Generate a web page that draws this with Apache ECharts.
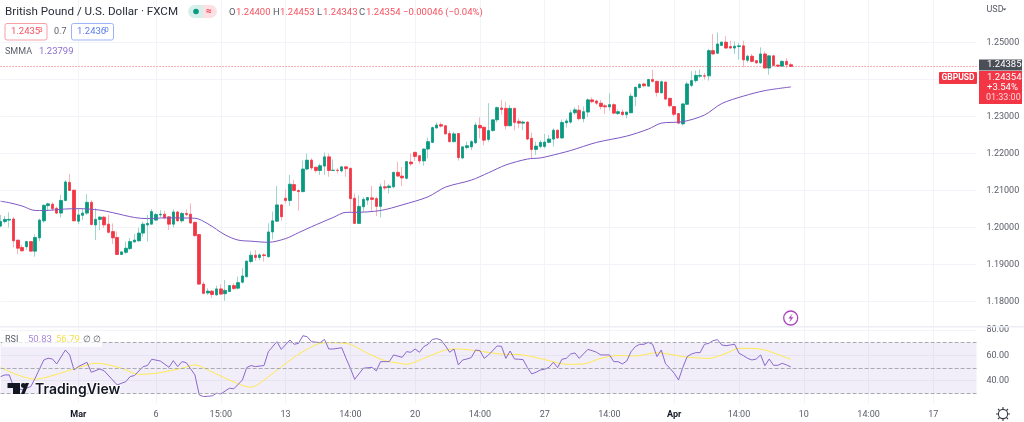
<!DOCTYPE html>
<html>
<head>
<meta charset="utf-8">
<title>GBPUSD</title>
<script src="https://cdn.jsdelivr.net/npm/echarts@6/dist/echarts.min.js"></script>
<style>
    html, body { margin: 0; padding: 0; background: #fff; overflow: hidden; }
    #chart { width: 1024px; height: 422px; }
</style>
</head>
<body>
<div id="chart"></div>
<script type="text/javascript">
// one entry per 4h candle
var opens = [
1.2004,1.2016,1.2020,1.2023,1.1966,1.1946,1.1948,1.1962,1.1936,1.1972,
1.2018,1.2059,1.2063,1.2052,1.2039,1.2073,1.2122,1.2101,1.2017,1.2033,
1.2039,1.2068,1.2007,1.2022,1.2028,1.2009,1.1989,1.1973,1.1927,1.1933,
1.1943,1.1961,1.1964,1.1985,1.2007,1.2009,1.2020,1.2034,1.2036,1.2029,
1.2009,1.2042,1.2018,1.2038,1.2036,1.2014,1.1981,1.1847,1.1823,1.1828,
1.1818,1.1834,1.1821,1.1827,1.1843,1.1836,1.1852,1.1867,1.1908,1.1925,
1.1919,1.1926,1.1921,1.1988,1.2017,1.2061,1.2079,1.2073,1.2116,1.2100,
1.2097,1.2158,1.2182,1.2163,1.2154,1.2166,1.2191,1.2154,1.2155,1.2153,
1.2164,1.2160,1.2079,1.2011,1.2056,1.2074,1.2080,1.2078,1.2057,1.2110,
1.2108,1.2110,1.2149,1.2139,1.2133,1.2177,1.2203,1.2194,1.2180,1.2212,
1.2230,1.2269,1.2278,1.2275,1.2254,1.2232,1.2254,1.2188,1.2216,1.2218,
1.2229,1.2276,1.2271,1.2238,1.2262,1.2291,1.2323,1.2322,1.2275,1.2322,
1.2287,1.2282,1.2285,1.2241,1.2211,1.2219,1.2219,1.2230,1.2239,1.2263,
1.2242,1.2283,1.2285,1.2310,1.2317,1.2294,1.2312,1.2345,1.2342,1.2336,
1.2329,1.2326,1.2332,1.2308,1.2312,1.2305,1.2310,1.2354,1.2378,1.2388,
1.2382,1.2400,1.2395,1.2364,1.2393,1.2349,1.2327,1.2308,1.2280,1.2333,
1.2384,1.2397,1.2409,1.2410,1.2410,1.2478,1.2471,1.2492,1.2501,1.2489,
1.2485,1.2489,1.2491,1.2452,1.2463,1.2451,1.2445,1.2469,1.2431,1.2464,
1.2439,1.2436,1.2449,1.2440];
var closes = [
1.2016,1.2022,1.2022,1.1964,1.1944,1.1937,1.1962,1.1936,1.1973,1.2020,
1.2060,1.2064,1.2051,1.2039,1.2073,1.2123,1.2100,1.2018,1.2034,1.2039,
1.2068,1.2008,1.2022,1.2028,1.2007,1.1987,1.1972,1.1927,1.1934,1.1944,
1.1962,1.1966,1.1985,1.2009,1.2011,1.2043,1.2035,1.2036,1.2026,1.2009,
1.2042,1.2018,1.2038,1.2035,1.2012,1.1978,1.1847,1.1822,1.1828,1.1819,
1.1834,1.1820,1.1830,1.1843,1.1835,1.1851,1.1869,1.1909,1.1925,1.1919,
1.1926,1.1924,1.1988,1.2018,1.2061,1.2029,1.2073,1.2117,1.2100,1.2097,
1.2158,1.2182,1.2161,1.2154,1.2167,1.2191,1.2154,1.2155,1.2154,1.2164,
1.2159,1.2078,1.2011,1.2057,1.2076,1.2081,1.2076,1.2057,1.2110,1.2107,
1.2112,1.2149,1.2139,1.2134,1.2178,1.2172,1.2192,1.2180,1.2212,1.2232,
1.2270,1.2277,1.2274,1.2253,1.2232,1.2253,1.2189,1.2218,1.2221,1.2232,
1.2277,1.2269,1.2236,1.2262,1.2291,1.2324,1.2319,1.2275,1.2322,1.2284,
1.2282,1.2285,1.2239,1.2211,1.2220,1.2230,1.2231,1.2239,1.2263,1.2242,
1.2284,1.2288,1.2310,1.2318,1.2294,1.2313,1.2345,1.2340,1.2336,1.2327,
1.2326,1.2332,1.2309,1.2313,1.2305,1.2312,1.2355,1.2379,1.2387,1.2383,
1.2400,1.2395,1.2365,1.2394,1.2347,1.2329,1.2306,1.2282,1.2334,1.2388,
1.2397,1.2411,1.2411,1.2409,1.2478,1.2469,1.2496,1.2501,1.2485,1.2485,
1.2490,1.2491,1.2453,1.2463,1.2449,1.2445,1.2469,1.2431,1.2464,1.2438,
1.2436,1.2449,1.2440,1.24354];
var highs = [
1.2034,1.2031,1.2041,1.2029,1.1966,1.1953,1.1964,1.1962,1.1982,1.2024,
1.2062,1.2067,1.2068,1.2056,1.2088,1.2128,1.2145,1.2101,1.2052,1.2052,
1.2090,1.2074,1.2052,1.2031,1.2031,1.2034,1.2011,1.1989,1.1936,1.1962,
1.1971,1.1982,1.2000,1.2016,1.2034,1.2050,1.2040,1.2047,1.2045,1.2031,
1.2049,1.2044,1.2042,1.2049,1.2065,1.2016,1.1982,1.1854,1.1836,1.1831,
1.1843,1.1847,1.1858,1.1845,1.1849,1.1867,1.1890,1.1911,1.1935,1.1939,
1.1930,1.1930,1.2011,1.2043,1.2112,1.2063,1.2103,1.2142,1.2128,1.2103,
1.2181,1.2200,1.2187,1.2164,1.2173,1.2203,1.2200,1.2184,1.2160,1.2166,
1.2165,1.2162,1.2092,1.2087,1.2082,1.2083,1.2112,1.2083,1.2119,1.2128,
1.2118,1.2151,1.2178,1.2163,1.2180,1.2200,1.2205,1.2196,1.2214,1.2243,
1.2273,1.2284,1.2284,1.2277,1.2262,1.2259,1.2255,1.2219,1.2232,1.2236,
1.2284,1.2298,1.2273,1.2336,1.2292,1.2327,1.2345,1.2340,1.2331,1.2324,
1.2295,1.2289,1.2287,1.2256,1.2232,1.2236,1.2253,1.2250,1.2268,1.2265,
1.2292,1.2295,1.2318,1.2325,1.2331,1.2327,1.2349,1.2352,1.2345,1.2345,
1.2334,1.2363,1.2336,1.2319,1.2319,1.2313,1.2363,1.2381,1.2390,1.2391,
1.2402,1.2426,1.2397,1.2397,1.2395,1.2351,1.2328,1.2309,1.2336,1.2394,
1.2422,1.2424,1.2427,1.2418,1.2483,1.2523,1.2527,1.2503,1.2517,1.2505,
1.2503,1.2499,1.2505,1.2467,1.2469,1.2451,1.2487,1.2476,1.2465,1.2467,
1.2440,1.2452,1.2458,1.24453];
var lows = [
1.2000,1.2011,1.2000,1.1946,1.1928,1.1935,1.1939,1.1935,1.1921,1.1963,
1.2013,1.2045,1.2045,1.2036,1.2027,1.2072,1.2099,1.2017,1.2009,1.2020,
1.2034,1.2006,1.1966,1.1993,1.1999,1.1984,1.1955,1.1926,1.1926,1.1928,
1.1939,1.1959,1.1962,1.1975,1.1962,1.2008,1.2018,1.2027,1.2022,1.1993,
1.2000,1.2016,1.2013,1.2031,1.2011,1.1975,1.1845,1.1820,1.1818,1.1810,
1.1815,1.1818,1.1802,1.1825,1.1831,1.1833,1.1849,1.1865,1.1903,1.1910,
1.1912,1.1908,1.1919,1.1968,1.2015,1.2018,1.2065,1.2058,1.2097,1.2045,
1.2095,1.2155,1.2155,1.2148,1.2142,1.2142,1.2137,1.2154,1.2146,1.2149,
1.2137,1.2042,1.2011,1.2011,1.2043,1.2061,1.2045,1.2031,1.2027,1.2101,
1.2092,1.2106,1.2137,1.2112,1.2130,1.2166,1.2180,1.2172,1.2167,1.2187,
1.2228,1.2267,1.2270,1.2251,1.2230,1.2230,1.2181,1.2185,1.2211,1.2209,
1.2226,1.2241,1.2222,1.2232,1.2259,1.2284,1.2304,1.2265,1.2273,1.2262,
1.2268,1.2263,1.2236,1.2187,1.2196,1.2214,1.2214,1.2228,1.2219,1.2240,
1.2240,1.2270,1.2280,1.2304,1.2289,1.2284,1.2298,1.2336,1.2331,1.2319,
1.2307,1.2316,1.2306,1.2304,1.2302,1.2295,1.2309,1.2328,1.2376,1.2379,
1.2381,1.2391,1.2354,1.2363,1.2345,1.2325,1.2300,1.2280,1.2276,1.2331,
1.2379,1.2391,1.2404,1.2400,1.2397,1.2467,1.2469,1.2491,1.2483,1.2483,
1.2469,1.2454,1.2433,1.2446,1.2446,1.2442,1.2442,1.2429,1.2413,1.2436,
1.2435,1.2435,1.2431,1.24343];

// SMMA: candle index, value
var smmaIdx = [0,2,5,8,10,15,18,23,26,31,34,38,45,48,52,55,58,62,66,69,72,77,80,82,88,93,99,103,109,113,117,122,125,127,132,138,145,150,153,158,163,167,172,177,183];
var smmaVal = [1.2071,1.2067,1.2058,1.2046,1.2046,1.2050,1.2051,1.2047,1.2040,1.2027,1.2024,1.2026,1.2025,1.2010,1.1980,1.1966,1.1963,1.1960,1.1970,1.1986,1.2002,1.2027,1.2041,1.2041,1.2046,1.2061,1.2083,1.2109,1.2128,1.2148,1.2169,1.2185,1.2188,1.2193,1.2208,1.2230,1.2247,1.2266,1.2282,1.2286,1.2304,1.2335,1.2355,1.2370,1.23799];

// RSI: candle index, value
var rsiIdx = [0,1,2,3,5,7,8,10,11,12,13,15,16,17,18,20,21,23,24,27,29,30,31,33,34,35,37,39,40,41,42,43,45,46,47,49,50,51,53,54,56,57,58,59,61,62,64,65,67,68,69,70,71,72,74,75,76,77,79,80,81,82,84,86,87,88,90,91,93,94,95,96,97,98,99,100,101,102,103,104,105,106,107,108,109,110,111,112,113,115,116,117,118,119,120,121,122,123,124,125,126,127,128,129,130,131,132,133,134,136,137,138,139,141,142,143,144,145,146,147,148,149,150,151,152,153,154,155,156,157,158,159,160,161,162,163,164,165,166,167,168,169,170,171,172,173,174,175,176,177,178,179,180,181,182,183];
var rsiVal = [43.2,44.5,44.5,35.3,32.7,35.3,41.9,56.3,57.7,57.1,53.2,64.2,60.3,48.4,51.1,54.5,46.6,49.2,47.7,36.6,39.2,43.2,44.0,51.1,51.9,56.9,55.5,50.5,55.8,51.1,55.0,54.2,44.5,28.7,27.4,27.9,30.0,29.5,34.0,33.5,40.5,50.3,51.9,51.1,51.9,62.9,70.8,64.7,72.1,68.7,69.5,75.5,74.7,70.8,70.0,72.6,65.0,65.0,66.0,57.6,49.8,41.0,49.8,50.5,47.7,55.0,55.0,60.3,58.4,62.9,62.4,65.0,62.4,66.9,68.7,72.6,73.2,72.1,67.6,62.4,65.0,52.4,56.3,57.1,58.2,64.2,63.7,57.6,60.3,67.4,67.1,57.6,63.4,57.1,56.9,56.6,50.3,45.3,46.6,48.4,49.0,50.5,54.5,50.3,56.9,57.6,61.0,61.9,57.6,64.7,63.7,62.4,60.3,60.3,55.0,55.0,53.2,55.5,62.9,66.9,68.7,68.7,70.3,68.7,59.0,64.2,53.2,49.8,45.8,40.5,50.5,59.0,61.0,62.1,62.1,68.7,69.5,71.6,72.4,68.2,67.6,68.2,68.7,61.6,59.8,57.6,56.3,57.1,60.3,51.8,57.1,52.1,52.1,53.7,52.4,50.83];

// RSI-based MA
var rsiMaIdx = [0,4,8,13,18,22,24,28,32,36,42,45,48,53,58,60,65,70,75,80,85,89,93,94,98,103,106,110,116,121,127,131,135,139,143,147,152,158,164,168,171,173,177,183];
var rsiMaVal = [50.3,44.5,41.1,45.0,50.3,53.7,53.2,49.8,45.0,45.8,49.8,52.4,48.4,40.5,34.8,37.9,51.0,62.9,70.0,69.5,61.6,55.8,53.4,52.9,57.6,64.2,65.0,63.7,61.0,60.3,55.8,52.9,53.2,57.6,59.8,59.5,62.1,59.0,57.6,61.6,65.5,65.5,64.2,56.79];

// time axis
var tickIdx = [18,36,51,66,81,96,111,126,141,156,171,186,201,216];
var tickLabels = ['Mar','6','15:00','13','14:00','20','14:00','27','14:00','Apr','14:00','10','14:00','17'];
var slotCount = 227;

var priceGrid = [1.18,1.19,1.20,1.21,1.22,1.23,1.24,1.25];
var priceLabels = [1.18,1.19,1.20,1.21,1.22,1.23,1.25];
var rsiGrid = [40,60,80];
var rsiLevels = [70,50,30];

var lastClose = 1.24354;

var RED = '#f23645', GREEN = '#089981', WICK_RED = '#fbb4ba', WICK_GREEN = '#9dd6ca';
var LEG_RED = '#f7525f';
var PURPLE = '#7e57c2', YELLOW = '#ffe94f', GRID = '#f2f4f9', TXT = '#5a5d68';
var FONT = 'Roboto, sans-serif';

var categories = [];
for (var i = 0; i < slotCount; i++) {
    var at = tickIdx.indexOf(i);
    categories.push(at >= 0 ? tickLabels[at] : '');
}

var wickData = opens.map(function (o, k) { return [o, closes[k], lows[k], highs[k]]; });
var bodyData = opens.map(function (o, k) { return [o, closes[k], Math.min(o, closes[k]), Math.max(o, closes[k])]; });

function pairs(xs, ys) {
    return xs.map(function (x, k) { return [x, ys[k]]; });
}
function isTick(idx) {
    return tickIdx.indexOf(idx) >= 0;
}

function txt(x, y, text, fill, size, weight, align) {
    return {
        type: 'text', z: 100,
        style: {
            x: x, y: y, text: text, fill: fill || TXT,
            font: (weight || 'normal') + ' ' + (size || 9.5) + 'px ' + FONT,
            align: align || 'left', verticalAlign: 'middle'
        }
    };
}
function box(x, y, w, h, fill, stroke, r) {
    return {
        type: 'rect', z: 90,
        shape: { x: x, y: y, width: w, height: h, r: r || 0 },
        style: { fill: fill, stroke: stroke || null, lineWidth: stroke ? 1 : 0 }
    };
}

var gearLines = [[1003,407,1003,409],[1003,419,1003,421],[996,414,998,414],[1008,414,1010,414],
    [998,409,999.5,410.5],[1008,409,1006.5,410.5],[998,419,999.5,417.5],[1008,419,1006.5,417.5]];

var overlay = [
    // pane separator
    { type: 'rect', z: 80, shape: { x: 0, y: 326, width: 1024, height: 1.5 }, style: { fill: '#eceef3' } },

    // header
    txt(5, 12, 'British Pound / U.S. Dollar · FXCM', '#2a2e39', 11.6),
    box(188, 5, 15, 13, '#d5f0ea', null, [6.5, 0, 0, 6.5]),
    box(203, 5, 14, 13, '#fde0e3', null, [0, 6.5, 6.5, 0]),
    { type: 'circle', z: 95, shape: { cx: 196, cy: 11.5, r: 2.8 }, style: { fill: GREEN } },
    txt(209, 11.5, '≈', RED, 10, 'bold', 'center'),
    txt(229, 12.5, 'O', TXT, 9.5), txt(236, 12.5, '1.24400', LEG_RED, 9.5),
    txt(273, 12.5, 'H', TXT, 9.5), txt(280, 12.5, '1.24453', LEG_RED, 9.5),
    txt(317, 12.5, 'L', TXT, 9.5), txt(323, 12.5, '1.24343', LEG_RED, 9.5),
    txt(359, 12.5, 'C', TXT, 9.5), txt(366, 12.5, '1.24354', LEG_RED, 9.5),
    txt(403, 12.5, '−0.00046 (−0.04%)', LEG_RED, 9.5),

    // bid / ask
    box(5, 23.5, 42, 16.5, '#fff', '#f7a0a8', 2),
    txt(11, 32, '1.2435', LEG_RED, 9.5), txt(38.5, 30.5, '3', LEG_RED, 7.5),
    txt(54, 32, '0.7', TXT, 9),
    box(71.5, 23.5, 42, 16.5, '#fff', '#9db4fb', 2),
    txt(77, 32, '1.2436', '#5b7cf0', 9.5), txt(104.5, 30.5, '0', '#5b7cf0', 7.5),

    // SMMA legend
    txt(5, 52, 'SMMA', TXT, 9), txt(39, 52, '1.23799', '#8e6fd0', 9.5),

    // price scale
    txt(986.5, 9.5, 'USD', TXT, 9),
    { type: 'polygon', z: 95, shape: { points: [[1002.5, 8.5], [1006.5, 8.5], [1004.5, 10.5]] }, style: { fill: TXT } },
    box(979, 59.5, 43, 11, '#4a4e57'),
    txt(987, 65, '1.24385', '#fff', 9.5),
    box(939, 72, 38, 12, RED, null, 1),
    txt(958, 78, 'GBPUSD', '#fff', 8.5, 'bold', 'center'),
    box(979, 71, 43, 33, RED),
    txt(987, 77.5, '1.24354', '#fff', 9.5),
    txt(987, 87.5, '+3.54%', '#fff', 9.5),
    txt(986, 98, '01:33:00', '#ffd5d8', 9),

    // lightning badge
    { type: 'circle', z: 95, shape: { cx: 790.7, cy: 318, r: 7 }, style: { fill: '#fff', stroke: '#ab47bc', lineWidth: 1.3 } },
    { type: 'polygon', z: 96, shape: { points: [[792.6, 313.6], [788.4, 318.6], [790.8, 318.6], [789.2, 322.4], [793.4, 317.2], [790.9, 317.2]] }, style: { fill: '#ab47bc' } },

    // RSI legend
    box(2, 333, 100, 14, 'rgba(255,255,255,0.7)'),
    txt(5, 340, 'RSI', TXT, 9),
    txt(28, 340, '50.83', '#a78ad8', 9.5),
    txt(56, 340, '56.79', '#f5e050', 9.5),
    txt(83, 340, '∅', TXT, 9), txt(93, 340, '∅', TXT, 9),

    // logo
    box(7.5, 383, 12.5, 5, '#131722'),
    box(13, 383, 7, 11, '#131722'),
    { type: 'circle', z: 95, shape: { cx: 23.3, cy: 385.5, r: 2.4 }, style: { fill: '#131722' } },
    { type: 'polygon', z: 95, shape: { points: [[21, 394], [25.5, 383], [29, 383], [24.5, 394]] }, style: { fill: '#131722' } },
    {
        type: 'text', z: 100,
        style: {
            x: 35, y: 389.5, text: 'TradingView', fill: '#131722', font: '600 14px Inter, sans-serif',
            verticalAlign: 'middle', stroke: 'rgba(255,255,255,0.85)', lineWidth: 2
        }
    },

    // settings icon
    { type: 'circle', z: 95, shape: { cx: 1003, cy: 414, r: 4.6 }, style: { fill: 'none', stroke: '#363a45', lineWidth: 1.1 } }
].concat(gearLines.map(function (g) {
    return { type: 'line', z: 95, shape: { x1: g[0], y1: g[1], x2: g[2], y2: g[3] }, style: { stroke: '#363a45', lineWidth: 1.1 } };
}));

var chart = echarts.init(document.getElementById('chart'), null, { renderer: 'canvas' });

chart.setOption({
    animation: false,
    backgroundColor: '#fff',
    grid: [
        { left: 0.6, top: 0, width: 975.9, height: 326 },
        { left: 0.6, top: 327, width: 975.9, height: 76 }
    ],
    xAxis: [
        {
            type: 'category', gridIndex: 0, data: categories, boundaryGap: false,
            axisLine: { show: false }, axisTick: { show: false }, axisLabel: { show: false },
            splitLine: { show: true, interval: isTick, lineStyle: { color: GRID, width: 1 } }
        },
        {
            type: 'category', gridIndex: 1, data: categories, boundaryGap: false,
            axisLine: { show: false }, axisTick: { show: false },
            axisLabel: {
                show: true, interval: isTick, margin: 7, color: TXT, fontSize: 9, fontFamily: FONT,
                formatter: function (v) { return (v === 'Mar' || v === 'Apr') ? '{b|' + v + '}' : v; },
                rich: { b: { fontWeight: 'bold', color: '#131722', fontSize: 9, fontFamily: FONT } }
            },
            splitLine: { show: true, interval: isTick, lineStyle: { color: GRID, width: 1 } }
        }
    ],
    yAxis: [
        {
            type: 'value', gridIndex: 0, position: 'right', scale: true,
            min: 1.173378, max: 1.261486,
            axisLine: { show: false },
            axisTick: { show: false, customValues: priceGrid },
            axisLabel: {
                color: TXT, fontSize: 9, fontFamily: FONT, margin: 10, customValues: priceLabels,
                formatter: function (v) { return v.toFixed(5); }
            },
            splitLine: { show: true, lineStyle: { color: GRID, width: 1 } }
        },
        {
            type: 'value', gridIndex: 1, position: 'right', scale: true,
            min: 22.3, max: 82.4,
            axisLine: { show: false },
            axisTick: { show: false, customValues: rsiGrid },
            axisLabel: {
                color: TXT, fontSize: 9, fontFamily: FONT, margin: 10, customValues: rsiGrid,
                formatter: function (v) { return v.toFixed(2); }
            },
            splitLine: { show: true, lineStyle: { color: GRID, width: 1 } }
        }
    ],
    series: [
        {
            name: 'wicks', type: 'candlestick', xAxisIndex: 0, yAxisIndex: 0, data: wickData,
            barWidth: 1, clip: false, z: 2,
            itemStyle: { color: WICK_GREEN, color0: WICK_RED, borderColor: WICK_GREEN, borderColor0: WICK_RED, borderWidth: 1 },
            markLine: {
                silent: true, symbol: 'none', precision: 5, label: { show: false },
                lineStyle: { color: RED, type: [1, 2], width: 1, opacity: 0.75 },
                data: [{ yAxis: lastClose }]
            }
        },
        {
            name: 'GBPUSD', type: 'candlestick', xAxisIndex: 0, yAxisIndex: 0, data: bodyData,
            barWidth: 3, clip: false, z: 3,
            itemStyle: { color: GREEN, color0: RED, borderColor: GREEN, borderColor0: RED, borderWidth: 0.8 }
        },
        {
            name: 'SMMA', type: 'line', xAxisIndex: 0, yAxisIndex: 0, data: pairs(smmaIdx, smmaVal),
            showSymbol: false, symbol: 'none', z: 4, smooth: 0.3,
            lineStyle: { color: PURPLE, width: 1 }
        },
        {
            name: 'RSI', type: 'line', xAxisIndex: 1, yAxisIndex: 1, data: pairs(rsiIdx, rsiVal),
            showSymbol: false, symbol: 'none', z: 4,
            lineStyle: { color: '#8a68cc', width: 1 },
            markArea: {
                silent: true,
                itemStyle: { color: 'rgba(126,87,194,0.1)' },
                data: [[{ yAxis: rsiLevels[0] }, { yAxis: rsiLevels[2] }]]
            },
            markLine: {
                silent: true, symbol: 'none', label: { show: false },
                lineStyle: { color: '#a9abb3', type: 'dashed', width: 1 },
                data: rsiLevels.map(function (v) { return { yAxis: v }; })
            }
        },
        {
            name: 'RSI MA', type: 'line', xAxisIndex: 1, yAxisIndex: 1, data: pairs(rsiMaIdx, rsiMaVal),
            showSymbol: false, symbol: 'none', z: 3, smooth: 0.3,
            lineStyle: { color: YELLOW, width: 1 }
        }
    ],
    graphic: { elements: overlay }
});
</script>
</body>
</html>
